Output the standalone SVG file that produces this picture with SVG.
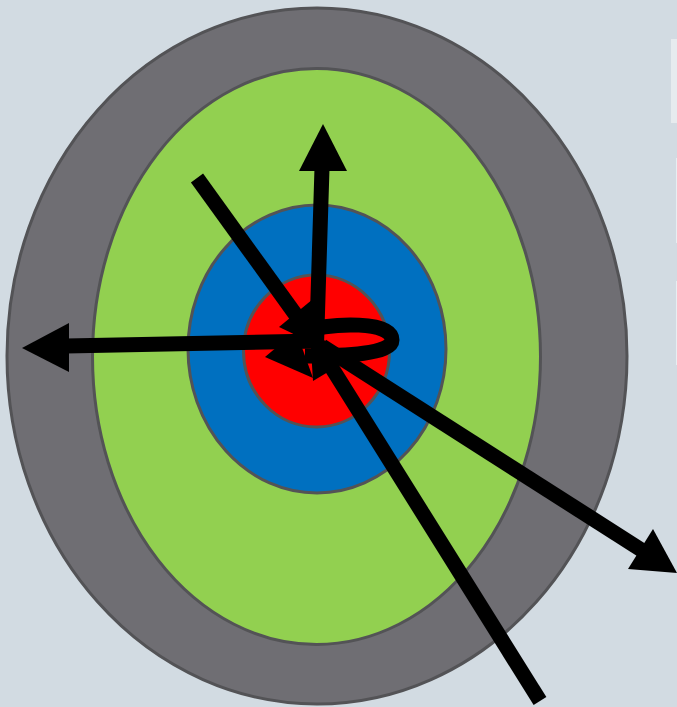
<svg xmlns="http://www.w3.org/2000/svg" width="677" height="707" viewBox="0 0 677 707">
<style>
.ring{stroke:#535356;stroke-width:3}
.shaft{stroke:#000;stroke-width:15;fill:none;stroke-linecap:butt}
.head{fill:#000;stroke:none}
</style>
<rect x="0" y="0" width="677" height="707" fill="#d2dbe2"/>
<rect x="671" y="39" width="6" height="84" fill="#e6ebee"/>
<rect x="676" y="158" width="1" height="85" fill="#e8eef2"/>
<rect x="676" y="281" width="1" height="84" fill="#e8eef2"/>
<g id="ring-outer"><ellipse class="ring" cx="317" cy="356" rx="310" ry="348" fill="#6f6e73"/></g>
<g id="ring-green"><ellipse class="ring" cx="316.5" cy="356.5" rx="224" ry="288" fill="#92d050"/></g>
<g id="ring-blue"><ellipse class="ring" cx="317" cy="349" rx="129" ry="144" fill="#0070c0"/></g>
<g id="ring-red"><ellipse class="ring" cx="316.5" cy="351" rx="73" ry="76" fill="#ff0000"/></g>
<g id="connectors">
  <line class="shaft" x1="316.5" y1="345" x2="322" y2="168"/>
  <polygon class="head" points="323,124 347,171 299,171"/>
  <line class="shaft" x1="318" y1="341" x2="66" y2="346"/>
  <polygon class="head" points="22,348 69,323 69,372"/>
  <line class="shaft" x1="322" y1="346" x2="643" y2="551"/>
  <polygon class="head" points="677,573 653,529 628,569"/>
  <line class="shaft" x1="197" y1="178" x2="298" y2="318"/>
  <polygon class="head" points="323,348 313,299 279,327"/>
  <line class="shaft" x1="540" y1="701" x2="330" y2="365"/>
  <polygon class="head" points="310,332 353,357 313,381"/>
  <path class="shaft" d="M300,332 C335,322 392,321 392,340 C392,354 345,356 305,356" stroke-width="15"/>
  <polygon class="head" points="265,357 296,331 313,378"/>
</g>
</svg>
